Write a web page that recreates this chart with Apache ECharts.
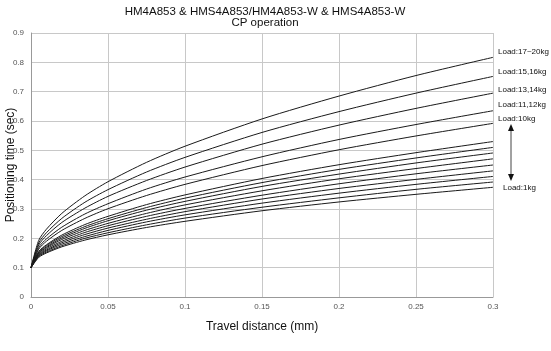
<!DOCTYPE html>
<html>
<head>
<meta charset="utf-8">
<script src="https://cdn.jsdelivr.net/npm/echarts@6/dist/echarts.min.js"></script>
<style>
  html, body { margin: 0; padding: 0; background: #fff; }
  #main { width: 551px; height: 351px; }
</style>
</head>
<body>
<div id="main"></div>
<script>
// travel distance (mm) where the curves were read
const distances = [0, 0.005, 0.01, 0.02, 0.035, 0.05, 0.075, 0.1, 0.15, 0.2, 0.25, 0.3];

// positioning time (sec), one array per curve, top to bottom
const load20 = [0.1, 0.193, 0.231, 0.285, 0.345, 0.393, 0.459, 0.514, 0.607, 0.685, 0.755, 0.817];
const load16 = [0.1, 0.184, 0.219, 0.268, 0.323, 0.366, 0.426, 0.476, 0.561, 0.632, 0.695, 0.752];
const load14 = [0.1, 0.177, 0.209, 0.254, 0.303, 0.343, 0.397, 0.443, 0.521, 0.586, 0.643, 0.695];
const load12 = [0.1, 0.169, 0.198, 0.238, 0.283, 0.318, 0.368, 0.409, 0.478, 0.537, 0.588, 0.635];
const load10 = [0.1, 0.163, 0.190, 0.227, 0.268, 0.301, 0.346, 0.384, 0.448, 0.502, 0.549, 0.592];
const load9 = [0.1, 0.155, 0.178, 0.211, 0.247, 0.275, 0.315, 0.348, 0.404, 0.451, 0.492, 0.530];
const load8 = [0.1, 0.153, 0.175, 0.206, 0.240, 0.267, 0.305, 0.337, 0.390, 0.435, 0.474, 0.510];
const load7 = [0.1, 0.150, 0.171, 0.201, 0.234, 0.260, 0.296, 0.326, 0.377, 0.419, 0.457, 0.491];
const load6 = [0.1, 0.148, 0.168, 0.196, 0.227, 0.251, 0.285, 0.314, 0.362, 0.403, 0.438, 0.471];
const load5 = [0.1, 0.145, 0.164, 0.190, 0.220, 0.243, 0.275, 0.302, 0.347, 0.386, 0.420, 0.450];
const load4 = [0.1, 0.143, 0.160, 0.185, 0.213, 0.235, 0.265, 0.291, 0.334, 0.370, 0.401, 0.430];
const load3 = [0.1, 0.140, 0.157, 0.180, 0.206, 0.227, 0.256, 0.280, 0.320, 0.354, 0.384, 0.411];
const load2 = [0.1, 0.138, 0.153, 0.175, 0.200, 0.219, 0.246, 0.269, 0.306, 0.338, 0.367, 0.392];
const load1 = [0.1, 0.135, 0.150, 0.171, 0.194, 0.212, 0.237, 0.258, 0.294, 0.324, 0.350, 0.374];

const curves = [load20, load16, load14, load12, load10, load9, load8, load7, load6, load5, load4, load3, load2, load1];
const curveNames = ['17~20kg', '15,16kg', '13,14kg', '11,12kg', '10kg', '9kg', '8kg', '7kg', '6kg', '5kg', '4kg', '3kg', '2kg', '1kg'];

// labels at the right of the plot
const rightLabels = ['Load:17~20kg', 'Load:15,16kg', 'Load:13,14kg', 'Load:11,12kg', 'Load:10kg'];
const rightLabelY = [53, 73, 91, 106, 120];

const chart = echarts.init(document.getElementById('main'));

const series = curves.map((vals, i) => ({
    name: curveNames[i],
    type: 'line',
    data: vals.map((v, j) => [distances[j], v]),
    showSymbol: false,
    smooth: 0.25,
    lineStyle: {color: '#1a1a1a', width: 1},
    silent: true
}));

const graphics = rightLabels.map((t, i) => ({
    type: 'text',
    left: 498,
    top: rightLabelY[i] - 5,
    style: {text: t, fill: '#111', font: '8px "Liberation Sans", Arial, sans-serif'}
}));
// arrow between Load:10kg and Load:1kg
graphics.push({
    type: 'line',
    shape: {x1: 511, y1: 129, x2: 511, y2: 176},
    style: {stroke: '#444', lineWidth: 1}
});
graphics.push({
    type: 'polygon',
    shape: {points: [[511, 124], [508, 131], [514, 131]]},
    style: {fill: '#111'}
});
graphics.push({
    type: 'polygon',
    shape: {points: [[511, 181], [508, 174], [514, 174]]},
    style: {fill: '#111'}
});
graphics.push({
    type: 'text',
    left: 503,
    top: 184,
    style: {text: 'Load:1kg', fill: '#111', font: '8px "Liberation Sans", Arial, sans-serif'}
});

const option = {
    animation: false,
    backgroundColor: '#fff',
    title: {
        text: 'HM4A853 & HMS4A853/HM4A853-W & HMS4A853-W\nCP operation',
        left: 260,
        textAlign: 'center',
        top: 1,
        textStyle: {
            fontFamily: 'Liberation Sans',
            fontWeight: 'normal',
            fontSize: 11.5,
            lineHeight: 11,
            color: '#111'
        }
    },
    grid: {left: 31, right: 58, top: 33, bottom: 54, outerBoundsMode: 'none'},
    xAxis: {
        type: 'value',
        min: 0,
        max: 0.3,
        interval: 0.05,
        name: 'Travel distance (mm)',
        nameLocation: 'middle',
        nameGap: 24,
        nameTextStyle: {fontFamily: 'Liberation Sans', fontSize: 12, color: '#111'},
        axisLine: {lineStyle: {color: '#999'}},
        axisTick: {show: false},
        axisLabel: {
            fontFamily: 'Liberation Sans', fontSize: 8, color: '#555', margin: 6,
            formatter: v => String(Math.round(v * 100) / 100)
        },
        splitLine: {show: true, lineStyle: {color: '#c8c8c8'}}
    },
    yAxis: {
        type: 'value',
        min: 0,
        max: 0.9,
        interval: 0.1,
        name: 'Positioning time (sec)',
        nameLocation: 'middle',
        nameGap: 14,
        nameMoveOverlap: false,
        nameTextStyle: {fontFamily: 'Liberation Sans', fontSize: 12, color: '#111'},
        axisLine: {show: true, lineStyle: {color: '#999'}},
        axisTick: {show: false},
        axisLabel: {
            fontFamily: 'Liberation Sans', fontSize: 8, color: '#555', margin: 7,
            formatter: v => String(Math.round(v * 10) / 10)
        },
        splitLine: {show: true, lineStyle: {color: '#c8c8c8'}}
    },
    graphic: graphics,
    series: series
};

chart.setOption(option);
</script>
</body>
</html>
